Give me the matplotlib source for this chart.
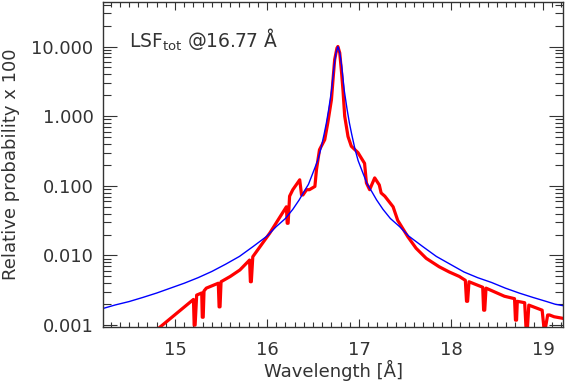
import numpy as np
import matplotlib
matplotlib.use("Agg")
import matplotlib.pyplot as plt
from matplotlib.ticker import FixedLocator, MultipleLocator, LogLocator, NullFormatter, FormatStrFormatter

plt.rcParams['font.family'] = ['DejaVu Sans']
plt.rcParams['mathtext.fontset'] = 'dejavusans'

wl_meas = [14.82, 15.20, 15.208, 15.218, 15.235, 15.29, 15.296, 15.306, 15.315, 15.34,
           15.47, 15.479, 15.489, 15.50, 15.60, 15.705, 15.81, 15.819, 15.829, 15.845,
           16.03, 16.21, 16.219, 16.229, 16.245, 16.28, 16.355, 16.375, 16.39, 16.43,
           16.46, 16.52, 16.537, 16.57, 16.627, 16.66, 16.70, 16.717, 16.735, 16.76,
           16.77, 16.79, 16.81, 16.825, 16.844, 16.88, 16.916, 16.988, 17.06, 17.08,
           17.115, 17.17, 17.22, 17.24, 17.28, 17.37, 17.42, 17.53, 17.62, 17.73,
           17.87, 17.98, 18.09, 18.155, 18.168, 18.18, 18.195, 18.344, 18.354, 18.366,
           18.38, 18.58, 18.69, 18.700, 18.712, 18.72, 18.80, 18.815, 18.83, 18.845,
           18.99, 19.01, 19.025, 19.05, 19.07, 19.12, 19.22]
p_meas = [0.00090, 0.00234, 0.00100, 0.00100, 0.0027, 0.0029, 0.0013, 0.0013, 0.0031, 0.0034,
          0.0040, 0.00183, 0.00183, 0.0042, 0.0050, 0.0062, 0.0086, 0.0042, 0.0042, 0.0096,
          0.021, 0.050, 0.029, 0.029, 0.071, 0.088, 0.122, 0.074, 0.074, 0.088,
          0.088, 0.098, 0.17, 0.33, 0.46, 0.80, 1.73, 3.35, 6.5, 9.5,
          10.0, 8.1, 4.2, 2.4, 1.0, 0.51, 0.37, 0.30, 0.21, 0.11,
          0.088, 0.13, 0.103, 0.079, 0.071, 0.050, 0.032, 0.0186, 0.0127, 0.0091,
          0.0069, 0.0058, 0.0050, 0.0044, 0.0022, 0.0022, 0.0042, 0.0035, 0.00164, 0.00164,
          0.0034, 0.0026, 0.0024, 0.00118, 0.00118, 0.0022, 0.0021, 0.0009, 0.0009, 0.00194,
          0.00164, 0.0009, 0.0009, 0.0014, 0.0014, 0.00132, 0.00125]

# model profile (blue)
wl_model = [14.22, 14.35, 14.50, 14.65, 14.80, 14.95, 15.10, 15.25, 15.40, 15.55,
            15.70, 15.85, 16.00, 16.10, 16.20, 16.28, 16.35, 16.40, 16.45, 16.50,
            16.55, 16.585, 16.62, 16.645, 16.67, 16.70, 16.73, 16.75, 16.77, 16.79,
            16.81, 16.84, 16.87, 16.895, 16.92, 16.955, 16.99, 17.04, 17.09, 17.14,
            17.19, 17.26, 17.34, 17.44, 17.54, 17.69, 17.84, 17.99, 18.14, 18.29,
            18.44, 18.59, 18.74, 18.89, 19.04, 19.13, 19.22]
p_model = [0.00174, 0.00195, 0.00218, 0.0025, 0.00289, 0.0034, 0.0040, 0.0048, 0.0059, 0.0075,
           0.0097, 0.0135, 0.019, 0.026, 0.034, 0.046, 0.063, 0.082, 0.105, 0.155,
           0.23, 0.34, 0.55, 0.80, 1.25, 2.3, 5.4, 8.2, 10.0, 8.2,
           5.4, 2.3, 1.25, 0.80, 0.55, 0.34, 0.23, 0.155, 0.105, 0.082,
           0.063, 0.046, 0.034, 0.026, 0.019, 0.0135, 0.0097, 0.0075, 0.0058, 0.0048,
           0.0041, 0.0034, 0.00289, 0.0025, 0.00218, 0.0020, 0.0019]

yticks = [0.001, 0.01, 0.1, 1.0, 10.0]
xticks = [15, 16, 17, 18, 19]

txt = '#333333'
fig = plt.figure(figsize=(5.65, 3.84), dpi=100)
ax = fig.add_axes([0.1828, 0.1492, 0.8142, 0.8464])

ax.plot(wl_meas, p_meas, color='#ff0000', lw=2.3, solid_joinstyle='round')
ax.plot(wl_model, p_model, color='#0000ff', lw=1.0)

ax.set_yscale('log')
ax.set_xlim(14.22, 19.22)
ax.set_ylim(0.00095, 44)

ax.xaxis.set_major_locator(FixedLocator(xticks))
ax.xaxis.set_minor_locator(MultipleLocator(0.1))
ax.yaxis.set_major_locator(FixedLocator(yticks))
ax.yaxis.set_minor_locator(LogLocator(base=10, subs=np.arange(2, 10)))
ax.yaxis.set_major_formatter(FormatStrFormatter('%.3f'))
ax.yaxis.set_minor_formatter(NullFormatter())

ax.tick_params(which='both', direction='in', top=True, right=True, colors='#333333',
               labelcolor=txt, labelsize=13, width=0.8)
ax.tick_params(axis='x', which='major', length=6, pad=10)
ax.tick_params(axis='x', which='minor', length=3.5)
ax.tick_params(axis='y', which='major', length=10, pad=7)
ax.tick_params(axis='y', which='minor', length=6)
for s in ax.spines.values():
    s.set_color('#333333')
    s.set_linewidth(1.0)

ax.set_xlabel('Wavelength [Å]', fontsize=13, color=txt, labelpad=1)
ax.set_ylabel('Relative probability x 100', fontsize=13, color=txt, labelpad=8)

ax.text(0.0565, 0.8575, r'LSF$_{\mathrm{tot}}$ @16.77 Å', transform=ax.transAxes,
        fontsize=13.5, color=txt, va='baseline', ha='left')

fig.savefig('out.png', dpi=100)
